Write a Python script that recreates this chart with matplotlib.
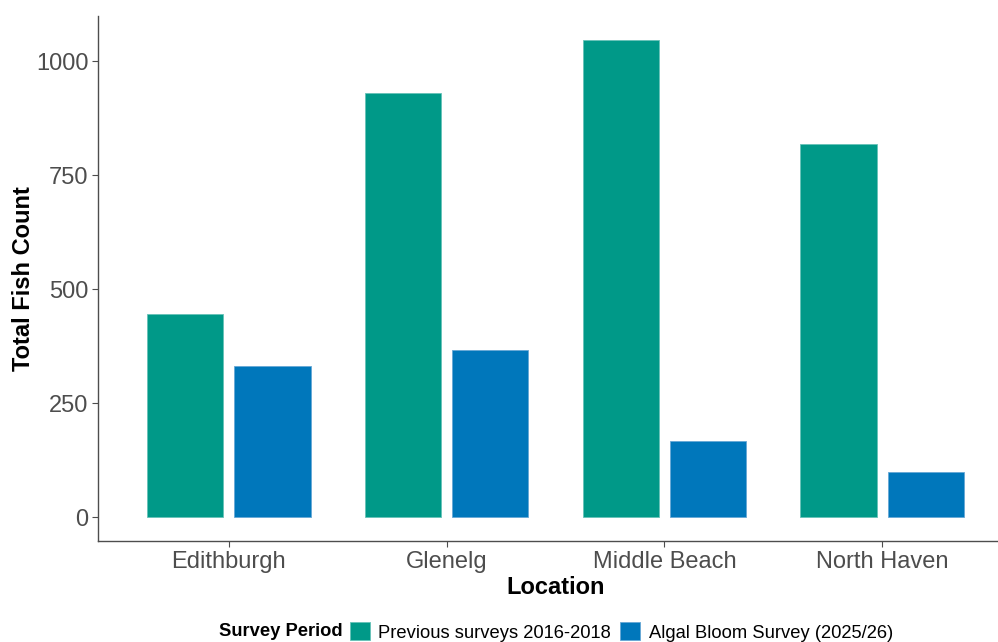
import matplotlib
matplotlib.use("Agg")
import matplotlib.pyplot as plt
import matplotlib.patches as mpatches
import numpy as np

plt.rcParams['font.family'] = ['Liberation Sans', 'DejaVu Sans']

locations = ["Edithburgh", "Glenelg", "Middle Beach", "North Haven"]
previous = [445, 930, 1046, 818]
algal = [332, 366, 166, 98]
series_names = ["Previous surveys 2016-2018", "Algal Bloom Survey (2025/26)"]
colors = ["#009988", "#0077BB"]
yticks = [0, 250, 500, 750, 1000]

W, H = 998, 642
fig = plt.figure(figsize=(W / 100, H / 100), dpi=100)
ax_left, ax_right, ax_top, ax_bottom = 98.3, 1012.7, 16.4, 541.0
ax = fig.add_axes([ax_left / W, 1 - ax_bottom / H, (ax_right - ax_left) / W, (ax_bottom - ax_top) / H])

x = np.arange(1, len(locations) + 1)
bw = 0.35
off = 0.2
ax.bar(x - off, previous, width=bw, color=colors[0], edgecolor="#66c2b8", linewidth=0.6, label=series_names[0])
ax.bar(x + off, algal, width=bw, color=colors[1], edgecolor="#66a8d6", linewidth=0.6, label=series_names[1])

ymax = max(max(previous), max(algal))
ax.set_xlim(0.4, len(locations) + 0.6)
ax.set_ylim(-0.05 * ymax, 1.05 * ymax)
ax.set_yticks(yticks)
ax.set_yticklabels([str(v) for v in yticks])
ax.set_xticks(x)
ax.set_xticklabels(locations)

for s in ["top", "right"]:
    ax.spines[s].set_visible(False)
for s in ["left", "bottom"]:
    ax.spines[s].set_color("#4d4d4d")
    ax.spines[s].set_linewidth(1.0)

ax.tick_params(axis="both", colors="#4d4d4d", labelcolor="#4d4d4d", labelsize=17, length=4, width=0.8, pad=3)

ax.set_xlabel("Location", fontsize=17, fontweight="bold", color="black", labelpad=2)
ax.set_ylabel("Total Fish Count", fontsize=17, fontweight="bold", color="black", labelpad=1)

handles = [mpatches.Patch(facecolor=colors[0], edgecolor="#66c2b8", linewidth=0.6),
           mpatches.Patch(facecolor=colors[1], edgecolor="#66a8d6", linewidth=0.6)]
leg = fig.legend(handles, series_names, loc="center", bbox_to_anchor=(621.5 / W, 1 - 632 / H),
                 ncol=2, frameon=False, fontsize=13.2, handlelength=1.1, handleheight=1.1,
                 handletextpad=0.45, columnspacing=0.5, borderaxespad=0, borderpad=0)
fig.text(343 / W, 1 - 632 / H, "Survey Period", ha="right", va="center", fontsize=13.2, fontweight="bold")

fig.savefig("out.png", dpi=100)
